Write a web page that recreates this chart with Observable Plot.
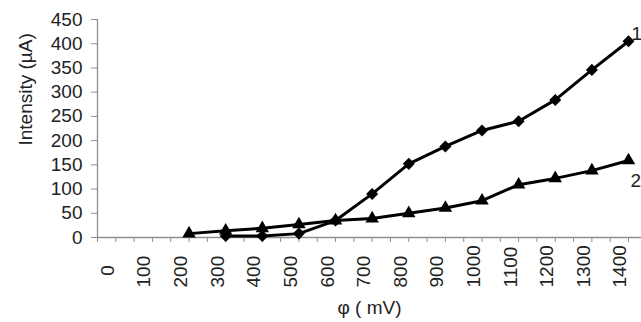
<!DOCTYPE html>
<html><head><meta charset="utf-8">
<script src="https://cdn.jsdelivr.net/npm/d3@7"></script>
<script src="https://cdn.jsdelivr.net/npm/@observablehq/plot@0.6"></script>
<style>body{margin:0;background:#fff;}</style>
</head><body><div id="chart"></div>
<script>
const phi1 = [300,400,500,600,700,800,900,1000,1100,1200,1300,1400];
const intensity1 = [3,3,8,35,90,152,188,221,240,284,346,405];
const phi2 = [200,300,400,500,600,700,800,900,1000,1100,1200,1300,1400];
const intensity2 = [8,14,19,27,35,39,50,61,76,109,122,138,159];
const xTickLabels = [0,100,200,300,400,500,600,700,800,900,1000,1100,1200,1300,1400];
const yTickLabels = [0,50,100,150,200,250,300,350,400,450];
const seriesNames = ["1","2"];
const xTitle = "φ ( mV)";
const yTitle = "Intensity (µA)";

const s1 = phi1.map((p,i)=>({phi:p, v:intensity1[i]}));
const s2 = phi2.map((p,i)=>({phi:p, v:intensity2[i]}));
const xMinor = d3.range(-50, 1401, 50);
const axisColor = "#8f8f8f";
const textColor = "#222";

const chart = Plot.plot({
  width: 641, height: 322,
  marginLeft: 97, marginRight: 0, marginTop: 19, marginBottom: 85,
  style: {fontFamily: "'Liberation Sans', Arial, sans-serif", fontSize: "19px", color: textColor, background: "#fff"},
  x: {domain: [-50, 1435.5]},
  y: {domain: [0, 450]},
  marks: [
    Plot.ruleY([0], {stroke: axisColor, strokeWidth: 1.3}),
    Plot.ruleX([-50], {y1: 0, y2: 450, stroke: axisColor, strokeWidth: 1.3}),
    Plot.axisX({ticks: xMinor, tickSize: 5, stroke: axisColor, tickFormat: () => "", label: null}),
    Plot.text(xTickLabels.filter(d => d !== 0), {x: d => d, frameAnchor: "bottom", dx: -2, dy: 50, rotate: -90, textAnchor: "start", text: d => String(d), fill: textColor}),
    Plot.text(xTickLabels.filter(d => d === 0), {x: d => d, frameAnchor: "bottom", dx: -2, dy: 33, rotate: -90, textAnchor: "middle", text: d => String(d), fill: textColor}),
    Plot.axisY({ticks: yTickLabels, tickSize: 6, tickPadding: 9, stroke: axisColor, label: null, fill: textColor}),
    Plot.text([xTitle], {frameAnchor: "bottom", dy: 76, text: d => d, fill: textColor}),
    Plot.text([yTitle], {frameAnchor: "left", dx: -72, dy: 17, rotate: -90, text: d => d, fill: textColor}),
    Plot.line(s1, {x: "phi", y: "v", stroke: "#000", strokeWidth: 3}),
    Plot.line(s2, {x: "phi", y: "v", stroke: "#000", strokeWidth: 3}),
    Plot.dot(s1, {x: "phi", y: "v", symbol: "square", rotate: 45, r: 4.8, fill: "#000", stroke: "none"}),
    Plot.dot(s2, {x: "phi", y: "v", symbol: "triangle", r: 5, fill: "#000", stroke: "none"}),
    Plot.text([s1[s1.length-1]], {x: "phi", y: "v", text: () => seriesNames[0], dx: 3, dy: -7, textAnchor: "start", fill: textColor}),
    Plot.text([s2[s2.length-1]], {x: "phi", y: "v", text: () => seriesNames[1], dx: 2, dy: 20, textAnchor: "start", fill: textColor})
  ]
});
document.getElementById("chart").appendChild(chart);
</script></body></html>
